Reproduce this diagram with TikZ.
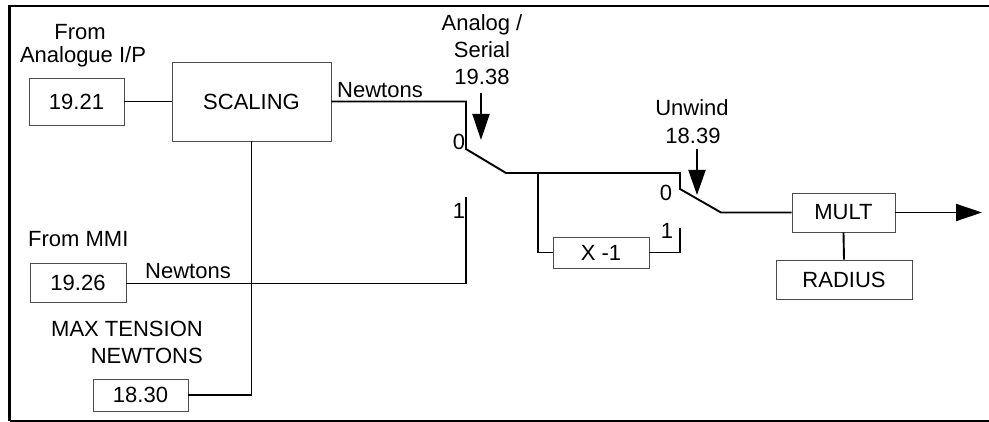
\documentclass[tikz,border=0pt]{standalone}
\usepackage{fontspec}
\setmainfont{Liberation Sans}
\usetikzlibrary{arrows.meta}
\begin{document}
\begin{tikzpicture}[x=1pt,y=-1pt,
  box/.style={draw=black!70, line width=0.9pt, inner sep=0pt, font=\fontsize{22}{25}\selectfont},
  wire/.style={line width=1.9pt},
  lbl/.style={inner sep=0pt, font=\fontsize{22}{25}\selectfont},
  bigtip/.style={-{Triangle[length=26pt,width=17pt]}}]
\useasboundingbox (0,0) rectangle (989,422);
% frame
\draw[line width=2.8pt] (989,6) -- (9.7,6) -- (9.7,420.7);
\draw[line width=2.2pt] (9.7,420.7) -- (989,420.7);
% boxes
\node[box, minimum width=95pt, minimum height=47pt] (b1921) at (76.5,101.5) {19.21};
\node[box, minimum width=159pt, minimum height=79pt] (scal) at (251.5,101.5) {SCALING};
\node[box, minimum width=96pt, minimum height=39pt] (b1926) at (78,282.5) {19.26};
\node[box, minimum width=95pt, minimum height=32pt] (b1830) at (140.5,395) {18.30};
\node[box, minimum width=96pt, minimum height=31pt] (xm1) at (601,252.5) {X -1};
\node[box, minimum width=103pt, minimum height=39pt] (mult) at (843.5,212.5) {MULT};
\node[box, minimum width=136pt, minimum height=39pt] (rad) at (844,279.5) {RADIUS};
% coordinates
\coordinate (s1top) at (466,101.5);
\coordinate (s1a) at (466,149);
\coordinate (s1b) at (506,173);
\coordinate (br) at (538,173);
\coordinate (s2top) at (680,173);
\coordinate (s2a) at (680,189);
\coordinate (s2b) at (721,212.5);
\coordinate (s1one) at (466,197);
\coordinate (s1low) at (466,283.5);
\coordinate (brlow) at (538,252.5);
\coordinate (s2low) at (680,252.5);
\coordinate (s2one) at (680,228);
\coordinate (sclow) at (251.5,395);
\coordinate (outend) at (982,212.5);
\coordinate (a1s) at (481,93);
\coordinate (a1e) at (481,140);
\coordinate (a2s) at (697,149);
\coordinate (a2e) at (697,195);
% wires
\draw[wire] (b1921.east) -- (scal.west);
\draw[wire] (scal.east) -- (s1top) -- (s1a) -- (s1b) -- (s2top) -- (s2a) -- (s2b) -- (mult.west);
\draw[wire] (br) -- (brlow) -- (xm1.west);
\draw[wire] (xm1.east) -- (s2low) -- (s2one);
\draw[wire] (b1926.east |- s1low) -- (s1low) -- (s1one);
\draw[wire] (scal.south) -- (sclow) -- (b1830.east);
\draw[wire] (mult.south) -- (rad.north);
\draw[wire, bigtip] (mult.east) -- (outend);
\draw[wire, bigtip] (a1s) -- (a1e);
\draw[wire, {-Triangle[length=25pt,width=17pt]}] (a2s) -- (a2e);
% labels
\node[lbl, anchor=base] (t1) at (80,40) {From};
\node[lbl, anchor=base] (t2) at (83,63) {Analogue I/P};
\node[lbl, anchor=base west] (t3) at (337,98) {Newtons};
\node[lbl, anchor=base] (t4) at (482,31) {Analog /};
\node[lbl, anchor=base] (t5) at (482,58) {Serial};
\node[lbl, anchor=base] (t6) at (482,85) {19.38};
\node[lbl, anchor=base] (t7) at (692,116) {Unwind};
\node[lbl, anchor=base] (t8) at (693,144) {18.39};
\node[lbl, anchor=base] (t9) at (459,150) {0};
\node[lbl, anchor=base] (t10) at (459,219) {1};
\node[lbl, anchor=base] (t11) at (666,201) {0};
\node[lbl, anchor=base] (t12) at (667,239) {1};
\node[lbl, anchor=base west] (t13) at (28,247) {From MMI};
\node[lbl, anchor=base west] (t14) at (145,279) {Newtons};
\node[lbl, anchor=base east] (t15) at (203,337) {MAX TENSION};
\node[lbl, anchor=base east] (t16) at (203,363) {NEWTONS};
\end{tikzpicture}
\end{document}
